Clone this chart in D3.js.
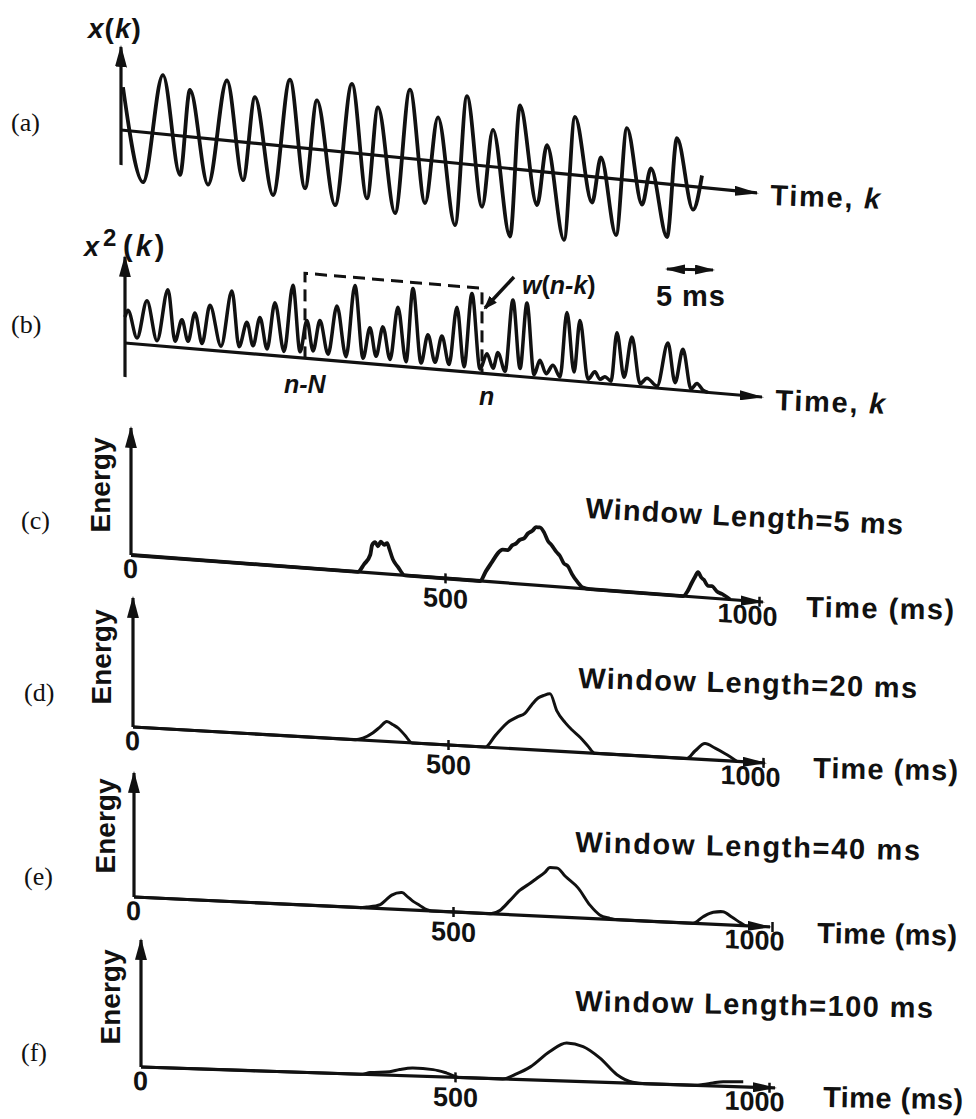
<!DOCTYPE html>
<html><head><meta charset="utf-8">
<script src="https://cdn.jsdelivr.net/npm/d3@7"></script>
<style>
body{margin:0;background:#fff;}
svg{display:block;}
text{font-family:"Liberation Sans",Arial,sans-serif;fill:#111;}
</style></head><body>
<svg id="chart" width="976" height="1119"></svg>
<script>
// ---------------- DATA ----------------
// (a) speech-like waveform x(k): [time ms, amplitude]
const signalX = [[0.2,43],[2.2,-50],[4.2,59],[5.9,-39],[6.9,47],[8.7,-46],[10.6,60],[12.2,-38],[13.4,46],[15.2,-50],[16.9,67],[18.4,-40],[19.6,49],[21.4,-54],[23.1,69],[24.6,-44],[25.7,48],[27.4,-56],[28.9,69],[30.4,-43],[31.7,44],[33.4,-62],[34.6,68],[36.1,-41],[37.2,37],[38.9,-68],[39.9,64],[41.6,-34],[42.6,27],[44.3,-66],[45.4,58],[47.1,-26],[48.0,20],[49.5,-56],[50.6,52],[52.1,-23],[53.0,14],[54.6,-53],[55.6,47],[57.2,-23],[58.1,12]];
// (b) squared waveform x^2(k)
const signalX2 = [[0.0,26],[0.3,33],[1.2,6],[2.2,44],[3.2,5],[4.3,57],[5.0,6],[5.7,28],[6.3,7],[7.0,36],[7.7,6],[8.5,45],[9.6,5],[10.7,61],[11.4,6],[12.2,31],[12.8,8],[13.5,37],[14.2,6],[15.0,53],[15.9,5],[16.8,72],[17.5,6],[18.2,38],[18.8,8],[19.5,39],[20.3,6],[21.2,55],[22.1,5],[23.0,77],[23.8,5],[24.5,36],[25.1,8],[25.8,38],[26.5,6],[27.3,59],[28.1,5],[28.8,79],[29.6,5],[30.3,34],[31.0,7],[31.7,34],[32.4,6],[33.2,64],[33.9,5],[34.7,79],[35.5,4],[36.2,20],[36.8,6],[37.3,22],[38.0,4],[38.8,76],[39.5,8],[40.2,74],[40.9,3],[41.5,18],[42.1,5],[42.8,14],[43.5,3],[44.2,68],[44.9,9],[45.5,61],[46.3,3],[47.0,11],[47.5,4],[48.0,7],[48.6,3],[49.2,52],[49.9,8],[50.7,49],[51.5,3],[52.2,9],[53.2,2],[54.3,46],[55.0,7],[55.8,41],[56.6,2],[57.2,8],[57.8,2],[58.3,0]];
const windowSpan = [18.0, 35.7];   // n-N .. n (ms)
const windowHeight = 85;
// (c)-(f) short-time energy: [time ms, energy]
const energy5ms = [[0,0],[361,0],[371,8],[381,18],[384,28],[389,31],[393,27],[398,32],[403,29],[408,31],[411,26],[417,15],[425,8],[436,0],[556,0],[565,10],[575,20],[584,29],[592,33],[600,33],[607,38],[613,40],[619,44],[626,46],[632,51],[639,54],[645,58],[651,58],[658,53],[664,45],[670,41],[677,35],[683,31],[689,24],[696,21],[702,14],[710,7],[720,1],[731,0],[879,0],[887,6],[893,14],[898,20],[903,25],[908,20],[912,18],[919,12],[925,12],[933,7],[941,5],[954,0]];
const energy20ms = [[0,0],[352,0],[365,2],[381,8],[392,14],[403,20],[413,17],[421,14],[432,7],[443,0],[559,0],[575,12],[595,26],[610,32],[622,36],[633,45],[643,52],[652,55],[662,57],[673,40],[686,29],[697,22],[710,15],[722,7],[733,0],[879,0],[892,8],[908,16],[924,12],[940,7],[959,0]];
const energy40ms = [[0,0],[354,0],[365,1],[386,4],[395,9],[404,14],[420,17],[429,13],[437,9],[448,5],[459,1],[467,0],[558,0],[574,4],[589,14],[605,25],[618,31],[632,38],[644,44],[652,49],[663,49],[676,41],[696,30],[715,13],[730,4],[746,1],[754,0],[876,0],[892,7],[908,12],[923,13],[937,8],[950,3],[958,0]];
const energy100ms = [[0,0],[349,0],[365,2],[396,3.5],[412,6],[433,8],[465,7],[487,4],[508,0],[576,0],[596,5],[620,13],[651,29],[678,38],[704,35],[731,24],[758,8],[783,1],[803,0],[882,0],[895,1],[911,3],[927,4.5],[959,5]];
const energyTicks = [0, 500, 1000];
const windowLabels = ["Window Length=5 ms","Window Length=20 ms","Window Length=40 ms","Window Length=100 ms"];
const panelLetters = ["(a)","(b)","(c)","(d)","(e)","(f)"];

// ---------------- LAYOUT ----------------
const INK = "#111";
const svg = d3.select("#chart");
svg.append("rect").attr("width",976).attr("height",1119).attr("fill","#fff");
const defs = svg.append("defs");
function marker(id, len, wid){
  defs.append("marker").attr("id",id).attr("viewBox",`0 0 ${len} ${wid}`)
    .attr("refX",len-2).attr("refY",wid/2).attr("markerWidth",len).attr("markerHeight",wid)
    .attr("markerUnits","userSpaceOnUse").attr("orient","auto-start-reverse")
    .append("path").attr("d",`M0,0L${len},${wid/2}L0,${wid}Z`).attr("fill",INK);
}
marker("arrY",22,12); marker("arrX",24,10); marker("arrS",20,10); marker("arrW",14,10);

const amp = d3.scaleLinear().domain([0,100]).range([0,100]);

function panel(cfg, series, sw){
  const g = svg.append("g").attr("transform",`translate(${cfg.ox},${cfg.oy}) skewY(${Math.atan(cfg.slope)*180/Math.PI})`);
  const x = d3.scaleLinear().domain(cfg.domain).range([0,cfg.range]);
  g.append("line").attr("x1",0).attr("y1",cfg.yDown).attr("x2",0).attr("y2",-cfg.yUp)
    .attr("stroke",INK).attr("stroke-width",3.2).attr("marker-end","url(#arrY)");
  g.append("line").attr("x1",0).attr("y1",0).attr("x2",cfg.len).attr("y2",0)
    .attr("stroke",INK).attr("stroke-width",3.2).attr("marker-end","url(#arrX)");
  g.append("path").datum(series)
    .attr("d", d3.line().x(d=>x(d[0])).y(d=>-amp(d[1])).curve(d3.curveMonotoneX))
    .attr("fill","none").attr("stroke",INK).attr("stroke-width",sw).attr("stroke-linejoin","round");
  return {g,x};
}

// (a)
panel({ox:121,oy:130,slope:0.099,len:636,domain:[0,63.6],range:636,yUp:83,yDown:35}, signalX, 3.8);
// (b)
const pb = panel({ox:125,oy:343,slope:0.0848,len:637,domain:[0,63.7],range:637,yUp:86,yDown:34}, signalX2, 3.5);
pb.g.append("path")
  .attr("d",`M${pb.x(windowSpan[0])},0V${-amp(windowHeight)}H${pb.x(windowSpan[1])}V0`)
  .attr("fill","none").attr("stroke",INK).attr("stroke-width",3).attr("stroke-dasharray","12,7");

// (c)-(f)
const energyCfg = [
  {ox:131,oy:555,slope:0.0744,len:632,range:628,yUp:127,dx:-12,sw:3.8},
  {ox:133,oy:727,slope:0.057,len:632,range:630,yUp:129,dx:-13,sw:3},
  {ox:134,oy:897,slope:0.047,len:636,range:638,yUp:124,dx:-18,sw:3},
  {ox:141,oy:1067,slope:0.033,len:634,range:628,yUp:127,dx:-15,sw:3}
];
const energySeries = [energy5ms, energy20ms, energy40ms, energy100ms];
energyCfg.forEach((c,i)=>{
  const p = panel({ox:c.ox,oy:c.oy,slope:c.slope,len:c.len,domain:[0,1000],range:c.range,yUp:c.yUp,yDown:0}, energySeries[i], c.sw);
  const axG = p.g.append("g").call(d3.axisBottom(p.x).tickValues(energyTicks).tickSize(5).tickPadding(5).tickFormat(d3.format("d")));
  axG.attr("font-size",27).attr("font-family","Liberation Sans, Arial, sans-serif").attr("font-weight","bold");
  axG.select(".domain").remove();
  axG.selectAll(".tick line").attr("y1",-5).attr("stroke",INK).attr("stroke-width",2.5);
  axG.selectAll(".tick text").attr("fill",INK);
  axG.selectAll(".tick").filter(d=>d===0).select("line").remove();
  axG.selectAll(".tick").filter(d=>d===0).select("text").attr("y",4).attr("dx",-1);
  axG.selectAll(".tick").filter(d=>d===1000).select("text").attr("dx",c.dx).attr("y",4);
});

// ---------------- TEXT ----------------
// panel letters
const letterPos = [[11,131],[11,333],[21,529],[24,701],[24,885],[21,1061]];
panelLetters.forEach((t,i)=>{
  svg.append("text").attr("x",letterPos[i][0]).attr("y",letterPos[i][1]).text(t)
    .style("font-family","'Liberation Serif','Times New Roman',serif").attr("font-size",26);
});
// x(k)
const xk = svg.append("text").attr("x",88).attr("y",38).attr("font-size",28).attr("font-weight","bold").attr("letter-spacing",1);
xk.append("tspan").attr("font-style","italic").text("x");
xk.append("tspan").text("(");
xk.append("tspan").attr("font-style","italic").text("k");
xk.append("tspan").text(")");
// x^2(k)
svg.append("text").attr("x",84).attr("y",256).attr("font-size",27).attr("font-weight","bold").attr("font-style","italic").text("x");
svg.append("text").attr("x",103).attr("y",246).attr("font-size",24).attr("font-weight","bold").text("2");
const x2k = svg.append("text").attr("x",123).attr("y",256).attr("font-size",29).attr("font-weight","bold").attr("letter-spacing",3);
x2k.append("tspan").text("(");
x2k.append("tspan").attr("font-style","italic").text("k");
x2k.append("tspan").text(")");
// Time, k
[[770,205],[775,410]].forEach(p=>{
  const t = svg.append("text").attr("x",p[0]).attr("y",p[1]).attr("font-size",29).attr("font-weight","bold")
    .attr("textLength",110).attr("lengthAdjust","spacing").attr("transform",`rotate(2,${p[0]},${p[1]})`);
  t.append("tspan").text("Time, ");
  t.append("tspan").attr("font-style","italic").text("k");
});
// window annotation
const wl = svg.append("text").attr("x",522).attr("y",294).attr("font-size",25).attr("font-weight","bold");
wl.append("tspan").attr("font-style","italic").text("w");
wl.append("tspan").text("(");
wl.append("tspan").attr("font-style","italic").text("n-k");
wl.append("tspan").text(")");
svg.append("line").attr("x1",514).attr("y1",277).attr("x2",485).attr("y2",308)
  .attr("stroke",INK).attr("stroke-width",3.5).attr("marker-end","url(#arrW)");
svg.append("text").attr("x",284).attr("y",393).attr("font-size",25).attr("font-style","italic").attr("font-weight","bold").text("n-N");
svg.append("text").attr("x",479).attr("y",405).attr("font-size",25).attr("font-style","italic").attr("font-weight","bold").text("n");
// 5 ms scale
svg.append("line").attr("x1",667).attr("y1",269).attr("x2",713).attr("y2",270)
  .attr("stroke",INK).attr("stroke-width",3).attr("marker-start","url(#arrS)").attr("marker-end","url(#arrS)");
svg.append("text").attr("x",656).attr("y",306).attr("font-size",29).attr("font-weight","bold")
  .attr("textLength",69).attr("lengthAdjust","spacing").text("5 ms");
// Energy labels
const energyLab = [[100,485],[101,657],[105,826],[110,997]];
energyLab.forEach(p=>{
  svg.append("text").attr("transform",`translate(${p[0]+10},${p[1]}) rotate(-90)`).attr("text-anchor","middle")
    .attr("font-size",28).attr("font-weight","bold").text("Energy");
});
// Window length labels
const wlPos = [[585,518,3.0,318],[578,688,1.7,339],[575,852,1.4,345],[575,1011,1.1,358]];
windowLabels.forEach((t,i)=>{
  const p = wlPos[i];
  svg.append("text").attr("x",p[0]).attr("y",p[1]).attr("font-size",29).attr("font-weight","bold")
    .attr("textLength",p[3]).attr("lengthAdjust","spacing")
    .attr("transform",`rotate(${p[2]},${p[0]},${p[1]})`).text(t);
});
// Time (ms)
const tmPos = [[806,617,148],[813,778,145],[817,943,140],[823,1107,140]];
tmPos.forEach(p=>{
  svg.append("text").attr("x",p[0]).attr("y",p[1]).attr("font-size",29).attr("font-weight","bold")
    .attr("textLength",p[2]).attr("lengthAdjust","spacing").attr("transform",`rotate(1,${p[0]},${p[1]})`).text("Time (ms)");
});
</script>
</body></html>
